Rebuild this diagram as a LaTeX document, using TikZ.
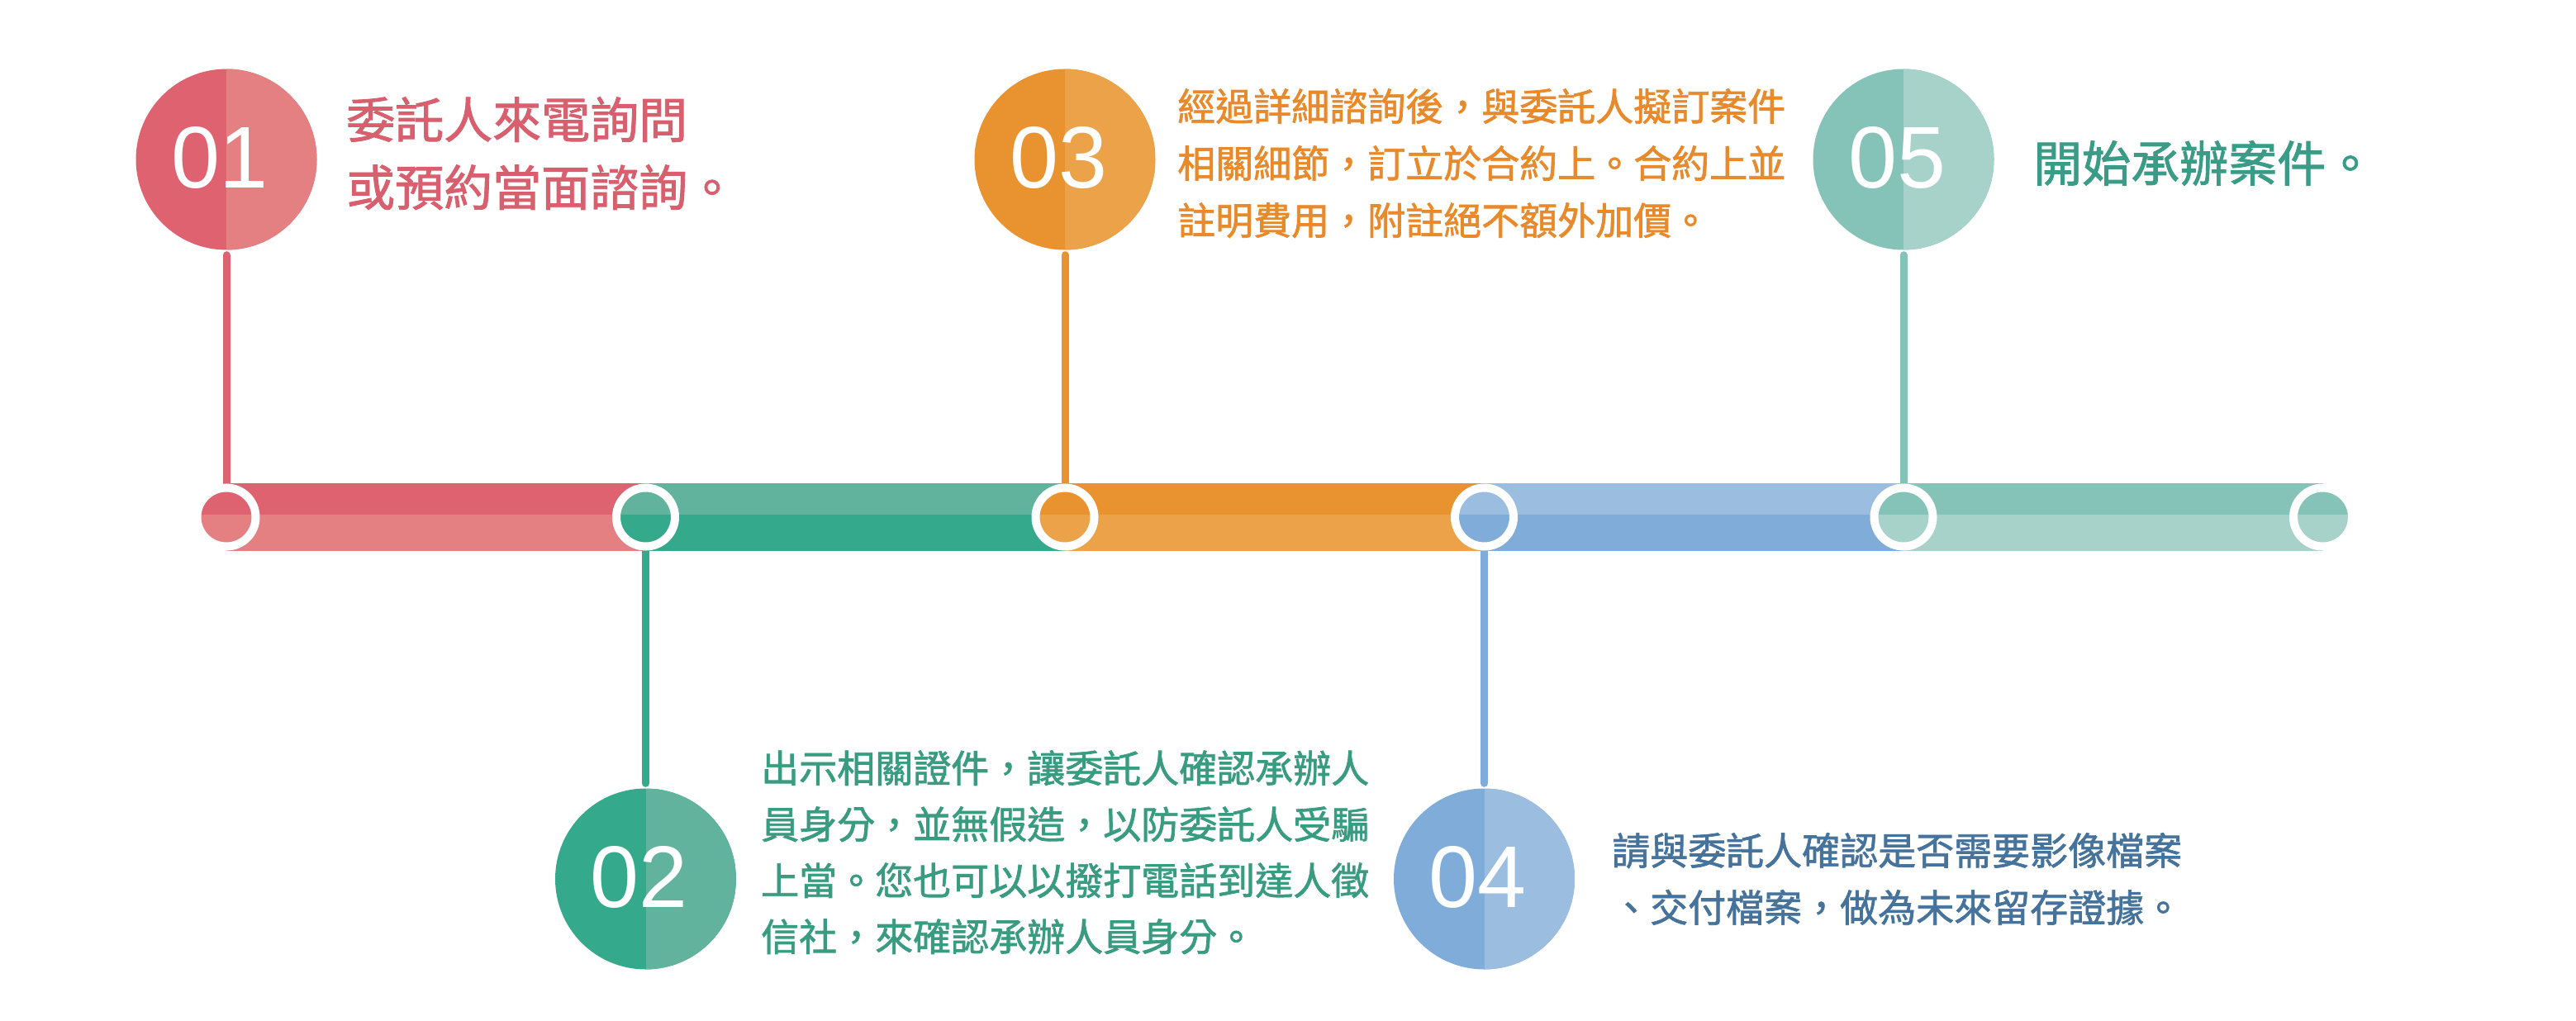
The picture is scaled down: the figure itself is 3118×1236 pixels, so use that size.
\documentclass[tikz,border=0pt]{standalone}
\usepackage{fontspec}
\newfontfamily\cjk[FakeBold=1.5]{Noto Sans CJK TC}
\newfontfamily\numfont{Liberation Sans}
\usetikzlibrary{backgrounds}
\definecolor{pinkD}{HTML}{DE6270}
\definecolor{pinkL}{HTML}{E47F82}
\definecolor{greenD}{HTML}{35A98C}
\definecolor{greenL}{HTML}{62B39D}
\definecolor{orangeD}{HTML}{E8932F}
\definecolor{orangeL}{HTML}{EBA248}
\definecolor{blueD}{HTML}{7FACD8}
\definecolor{blueL}{HTML}{9BBDE0}
\definecolor{tealD}{HTML}{85C2B8}
\definecolor{tealL}{HTML}{A6D2CA}
\definecolor{pinkT}{HTML}{D85F6E}
\definecolor{greenT}{HTML}{399C81}
\definecolor{orangeT}{HTML}{E88A2B}
\definecolor{blueT}{HTML}{46739C}
\definecolor{tealT}{HTML}{3A9C86}
\tikzset{
  ringnode/.style 2 args={circle, minimum size=71pt, inner sep=0pt, draw=white, line width=10pt,
    path picture={
      \fill[#1] (path picture bounding box.north west) rectangle ([yshift=3pt]path picture bounding box.east);
      \fill[#2] ([yshift=3pt]path picture bounding box.west) rectangle (path picture bounding box.south east);}},
  bigc/.style 2 args={circle, minimum size=219pt, inner sep=0pt, fill=#1,
    path picture={\fill[#2] (path picture bounding box.north) rectangle (path picture bounding box.south east);},
    text=white, font=\numfont\fontsize{106pt}{106pt}\selectfont},
  stemline/.style={draw=#1, line width=9pt, line cap=round, shorten <=6pt},
  txt/.style={anchor=north west, inner sep=0pt, align=left, text=#1},
  bigtxt/.style={font=\cjk\fontsize{59pt}{82pt}\selectfont},
  smalltxt/.style={font=\cjk\fontsize{46pt}{69pt}\selectfont},
}
\newcommand{\numlabel}[1]{\raisebox{5pt}{#1}\kern16pt}
\begin{document}
\begin{tikzpicture}[x=1pt,y=-1pt]
\useasboundingbox (0,0) rectangle (3118,1236);
% rings on the timeline
\node[ringnode={pinkD}{pinkL}]   (r1) at (274,626) {};
\node[ringnode={greenL}{greenD}] (r2) at (781.5,626) {};
\node[ringnode={orangeD}{orangeL}] (r3) at (1289,626) {};
\node[ringnode={blueL}{blueD}]   (r4) at (1796.5,626) {};
\node[ringnode={tealD}{tealL}]   (r5) at (2304,626) {};
\node[ringnode={tealD}{tealL}]   (r6) at (2811.5,626) {};
% numbered circles
\node[bigc={pinkD}{pinkL}]     (c1) at (274,193) {\numlabel{01}};
\node[bigc={greenD}{greenL}]   (c2) at (781.5,1064) {\numlabel{02}};
\node[bigc={orangeD}{orangeL}] (c3) at (1289,193) {\numlabel{03}};
\node[bigc={blueD}{blueL}]     (c4) at (1796.5,1064) {\numlabel{04}};
\node[bigc={tealD}{tealL}]     (c5) at (2304,193) {\numlabel{05}};
% bar and stems behind
\begin{scope}[on background layer]
  \foreach \a/\b/\ct/\cb in {r1/r2/pinkD/pinkL, r2/r3/greenL/greenD, r3/r4/orangeD/orangeL, r4/r5/blueL/blueD, r5/r6/tealD/tealL}{
    \fill[\ct] ([yshift=41pt]\a.center) rectangle ([yshift=3pt]\b.center);
    \fill[\cb] ([yshift=3pt]\a.center) rectangle ([yshift=-41pt]\b.center);
  }
  \draw[stemline=pinkD]   (c1) -- (r1);
  \draw[stemline=greenD]  (c2) -- (r2);
  \draw[stemline=orangeD] (c3) -- (r3);
  \draw[stemline=blueD]   (c4) -- (r4);
  \draw[stemline=tealD]   (c5) -- (r5);
\end{scope}
% texts
\node[txt=pinkT, bigtxt] (t1) at (419,117) {委託人來電詢問\\或預約當面諮詢。};
\node[txt=orangeT, smalltxt] (t3) at (1425,107) {經過詳細諮詢後，與委託人擬訂案件\\相關細節，訂立於合約上。合約上並\\註明費用，附註絕不額外加價。};
\node[txt=tealT, bigtxt] (t5) at (2461,170) {開始承辦案件。};
\node[txt=greenT, font=\cjk\fontsize{46pt}{68pt}\selectfont] (t2) at (921,908) {出示相關證件，讓委託人確認承辦人\\員身分，並無假造，以防委託人受騙\\上當。您也可以以撥打電話到達人徵\\信社，來確認承辦人員身分。};
\node[txt=blueT, smalltxt] (t4) at (1951,1008) {請與委託人確認是否需要影像檔案\\、交付檔案，做為未來留存證據。};
\end{tikzpicture}
\end{document}
